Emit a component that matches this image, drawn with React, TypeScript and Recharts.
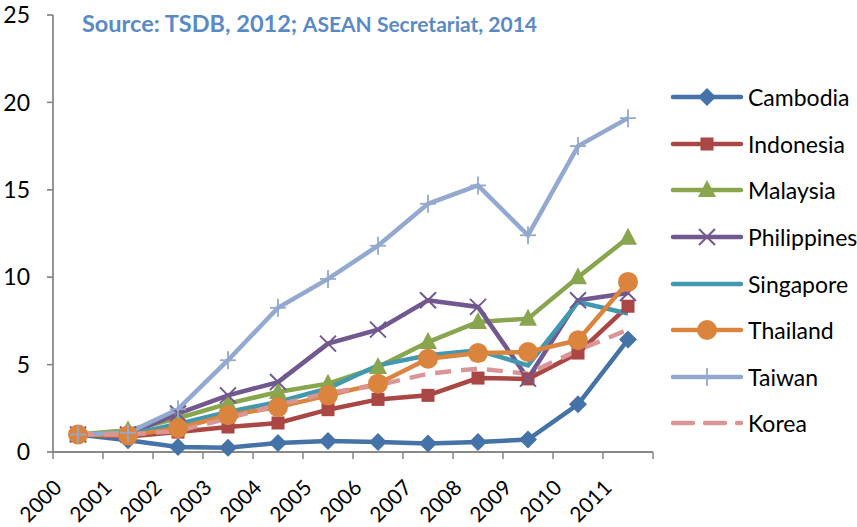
import { LineChart, Line, XAxis, YAxis, ReferenceLine } from 'recharts'

const YEARS = ['2000', '2001', '2002', '2003', '2004', '2005', '2006', '2007', '2008', '2009', '2010', '2011']
const Y_TICKS = [0, 5, 10, 15, 20, 25]

const cambodia = [1.0, 0.67, 0.29, 0.25, 0.51, 0.63, 0.57, 0.48, 0.57, 0.71, 2.73, 6.43]
const indonesia = [1.0, 0.88, 1.14, 1.43, 1.66, 2.42, 3.01, 3.24, 4.23, 4.18, 5.66, 8.34]
const malaysia = [1.0, 1.25, 1.93, 2.77, 3.43, 3.91, 4.86, 6.29, 7.44, 7.63, 10.0, 12.25]
const philippines = [1.0, 1.0, 2.2, 3.24, 4.0, 6.2, 7.0, 8.68, 8.3, 4.2, 8.68, 9.1]
const singapore = [1.0, 1.0, 1.6, 2.29, 2.86, 3.64, 4.96, 5.53, 5.82, 4.96, 8.58, 7.92]
const thailand = [1.0, 0.95, 1.36, 2.1, 2.57, 3.24, 3.91, 5.34, 5.66, 5.72, 6.39, 9.73]
const taiwan = [1.0, 1.1, 2.45, 5.25, 8.25, 9.9, 11.8, 14.2, 15.25, 12.4, 17.5, 19.1]
const korea = [1.0, 1.0, 1.2, 1.92, 2.7, 3.38, 3.82, 4.48, 4.77, 4.48, 5.82, 7.0]

const data = YEARS.map((y, i) => ({
  year: y,
  Cambodia: cambodia[i],
  Indonesia: indonesia[i],
  Malaysia: malaysia[i],
  Philippines: philippines[i],
  Singapore: singapore[i],
  Thailand: thailand[i],
  Taiwan: taiwan[i],
  Korea: korea[i],
}))

const FONT = 'Lato, "Open Sans", sans-serif'
const AXIS_COLOR = '#868686'

// plot frame (matches chart margins / axis sizes below)
const W = 857
const H = 527
const PLOT_LEFT = 53
const PLOT_TOP = 15
const PLOT_RIGHT = W - 204
const PLOT_BOTTOM = H - 75
const Y_MAX = 25

type Shape = 'diamond' | 'square' | 'triangle' | 'x' | 'none' | 'circle' | 'plus'

const SERIES: { key: string; color: string; shape: Shape; dash?: string }[] = [
  { key: 'Cambodia', color: '#4572A7', shape: 'diamond' },
  { key: 'Indonesia', color: '#AA4643', shape: 'square' },
  { key: 'Malaysia', color: '#89A54E', shape: 'triangle' },
  { key: 'Philippines', color: '#71588F', shape: 'x' },
  { key: 'Singapore', color: '#4198AF', shape: 'none' },
  { key: 'Thailand', color: '#DB843D', shape: 'circle' },
  { key: 'Taiwan', color: '#93A9CF', shape: 'plus' },
  { key: 'Korea', color: '#D99694', shape: 'none', dash: '16 10' },
]

function marker(shape: Shape, cx: number, cy: number, color: string) {
  switch (shape) {
    case 'diamond':
      return <polygon points={`${cx},${cy - 9} ${cx + 9},${cy} ${cx},${cy + 9} ${cx - 9},${cy}`} fill={color} />
    case 'square':
      return <rect x={cx - 6.5} y={cy - 6.5} width={13} height={13} fill={color} />
    case 'triangle':
      return <polygon points={`${cx},${cy - 10} ${cx + 9},${cy + 7} ${cx - 9},${cy + 7}`} fill={color} />
    case 'x':
      return (
        <g stroke={color} strokeWidth={2}>
          <line x1={cx - 8} y1={cy - 8} x2={cx + 8} y2={cy + 8} />
          <line x1={cx - 8} y1={cy + 8} x2={cx + 8} y2={cy - 8} />
        </g>
      )
    case 'circle':
      return <circle cx={cx} cy={cy} r={10} fill={color} />
    case 'plus':
      return (
        <g stroke={color} strokeWidth={1.8}>
          <line x1={cx - 8} y1={cy} x2={cx + 8} y2={cy} />
          <line x1={cx} y1={cy - 9} x2={cx} y2={cy + 9} />
        </g>
      )
    default:
      return null
  }
}

const makeDot = (shape: Shape, color: string) => (props: any) => {
  const { cx, cy, index } = props
  if (cx == null || cy == null || shape === 'none') return <g key={index} />
  return <g key={index}>{marker(shape, cx, cy, color)}</g>
}

const YearTick = (props: any) => {
  const { x, y, payload } = props
  const ax = x - 15
  const ay = y + 29
  return (
    <text x={ax} y={ay} transform={`rotate(-45 ${ax} ${ay})`} textAnchor="end" fill="#000" fontSize={21} fontFamily={FONT}>
      {payload.value}
    </text>
  )
}

// Excel-style axis frame: y-axis line with outside ticks, x ticks between categories
function AxisFrame() {
  const step = (PLOT_RIGHT - PLOT_LEFT) / YEARS.length
  const yPos = (v: number) => PLOT_BOTTOM - (v / Y_MAX) * (PLOT_BOTTOM - PLOT_TOP)
  return (
    <svg width={W} height={H} style={{ position: 'absolute', left: 0, top: 0 }}>
      <g stroke={AXIS_COLOR} strokeWidth={1.5}>
        <line x1={PLOT_LEFT} y1={PLOT_TOP} x2={PLOT_LEFT} y2={PLOT_BOTTOM} />
        <line x1={PLOT_LEFT} y1={PLOT_BOTTOM} x2={PLOT_RIGHT} y2={PLOT_BOTTOM} />
        {Y_TICKS.map(v => (
          <line key={v} x1={PLOT_LEFT - 6} y1={yPos(v)} x2={PLOT_LEFT} y2={yPos(v)} />
        ))}
        {[...YEARS, ''].map((_, i) => (
          <line key={i} x1={PLOT_LEFT + i * step} y1={PLOT_BOTTOM} x2={PLOT_LEFT + i * step} y2={PLOT_BOTTOM + 7} />
        ))}
      </g>
    </svg>
  )
}

function ChartLegend() {
  return (
    <div style={{ position: 'absolute', left: 670, top: 74, fontFamily: FONT, fontSize: 23, color: '#000' }}>
      {SERIES.map(s => (
        <div key={s.key} style={{ display: 'flex', alignItems: 'center', height: 46.6 }}>
          <svg width={76} height={24} style={{ marginRight: 2 }}>
            <line x1={3} y1={12} x2={71} y2={12} stroke={s.color} strokeWidth={4.5} strokeLinecap="round" strokeDasharray={s.dash ? '20 12' : undefined} />
            {marker(s.shape, 37, 12, s.color)}
          </svg>
          <span style={{ whiteSpace: 'nowrap' }}>{s.key}</span>
        </div>
      ))}
    </div>
  )
}

function Title() {
  return (
    <div style={{ position: 'absolute', left: 82, top: 8, fontFamily: FONT, fontWeight: 700, color: '#5A8AC6', whiteSpace: 'nowrap', lineHeight: '30px' }}>
      <span style={{ fontSize: 23.5 }}>Source: TSDB, 2012; </span>
      <span style={{ fontSize: 21 }}>ASEAN Secretariat, 2014</span>
    </div>
  )
}

export default function App() {
  return (
    <div style={{ position: 'absolute', left: 0, top: 0, width: W, height: H, background: '#fff' }}>
      <AxisFrame />
      <LineChart width={W} height={H} data={data} margin={{ top: PLOT_TOP, right: W - PLOT_RIGHT, bottom: 0, left: 0 }}>
        <XAxis
          dataKey="year"
          stroke={AXIS_COLOR}
          tickLine={false}
          height={H - PLOT_BOTTOM}
          tick={<YearTick />}
          interval={0}
          padding={{ left: 25, right: 25 }}
        />
        <YAxis
          domain={[0, Y_MAX]}
          ticks={Y_TICKS}
          width={PLOT_LEFT}
          stroke={AXIS_COLOR}
          tickMargin={17}
          tick={{ fill: '#000', fontSize: 23, fontFamily: FONT }}
        />
        <ReferenceLine y={0} stroke={AXIS_COLOR} strokeWidth={1.5} />
        {SERIES.map(s => (
          <Line
            key={s.key}
            dataKey={s.key}
            stroke={s.color}
            strokeWidth={4.5}
            strokeDasharray={s.dash}
            dot={makeDot(s.shape, s.color)}
            activeDot={false}
            isAnimationActive={false}
          />
        ))}
      </LineChart>
      <Title />
      <ChartLegend />
    </div>
  )
}
